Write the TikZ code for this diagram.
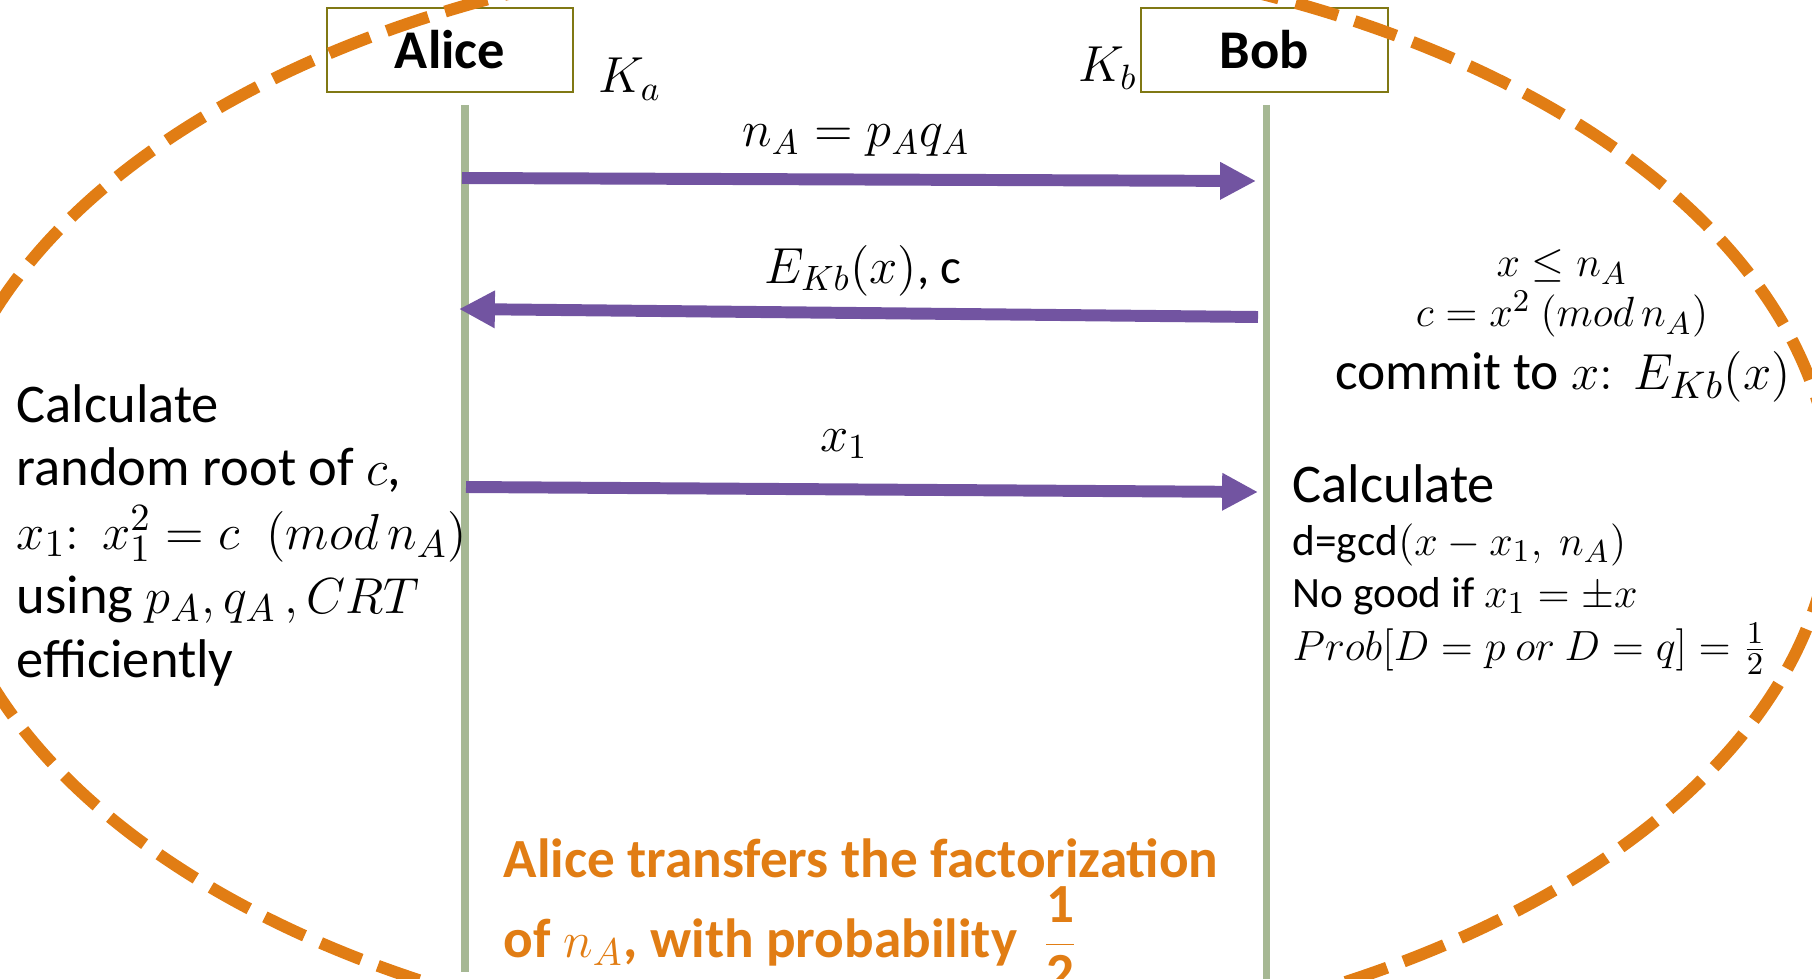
\documentclass[tikz,border=0pt]{standalone}
\usepackage{fontspec}
\setmainfont{Carlito}
\usetikzlibrary{arrows.meta}
\definecolor{orng}{RGB}{225,125,20}
\definecolor{purp}{RGB}{114,84,161}
\definecolor{sage}{RGB}{166,184,148}
\definecolor{olivebd}{RGB}{128,120,20}
\begin{document}
\begin{tikzpicture}[x=0.01cm,y=-0.01cm,
  actor/.style={draw=olivebd, line width=0.6pt, minimum width=2.46cm, minimum height=0.84cm, inner sep=0pt, font=\fontsize{15.5}{18}\selectfont\bfseries},
  life/.style={draw=sage, line width=2pt},
  msg/.style={draw=purp, line width=3.4pt, -{Triangle[length=10.2pt,width=10pt]}},
  bigtxt/.style={inner sep=0pt, anchor=base west, font=\fontsize{15.5}{18}\selectfont},
  smtxt/.style={inner sep=0pt, anchor=base west, font=\fontsize{12.3}{15}\selectfont},
  lbl/.style={inner sep=0pt, anchor=base, font=\fontsize{14}{16}\selectfont},
  keylbl/.style={inner sep=0pt, font=\fontsize{14}{16}\selectfont},
  note/.style={inner sep=0pt, anchor=base west, text=orng, font=\fontsize{15.7}{18}\selectfont\bfseries},
  ring/.style={draw=orng, line width=3.4pt, dash pattern=on 12.5pt off 5pt}
]
\useasboundingbox (0,0) rectangle (1812,979);
\clip (0,0) rectangle (1812,979);

% actors
\node[actor] (alice) at (450,50) {Alice};
\node[actor] (bob) at (1264.5,50) {Bob};
\node[keylbl, anchor=base west] (ka) at (598,93) {$K_a$};
\node[keylbl, anchor=base east] (kb) at (1138,82) {$K_b$};

% lifelines
\coordinate (atop) at (465,105);
\coordinate (abot) at (465,972);
\coordinate (btop) at (1266,105);
\coordinate (bbot) at (1266,979);
\draw[life] (atop) -- (abot);
\draw[life] (btop) -- (bbot);

% messages
\coordinate (m1s) at (462,178);
\coordinate (m1e) at (1256,181);
\coordinate (m2s) at (1258,317);
\coordinate (m2e) at (459,309);
\coordinate (m3s) at (466,487);
\coordinate (m3e) at (1258,492);
\draw[msg] (m1s) -- (m1e);
\draw[msg] (m2s) -- (m2e);
\draw[msg] (m3s) -- (m3e);

\node[lbl] (l1) at (856,147) {$n_A = p_Aq_A$};
\node[lbl] (l2) at (863,283) {$E_{Kb}(x)$, c};
\node[lbl] (l3) at (844,451) {$x_1$};

% Alice side text
\node[bigtxt] (a1) at (16,422) {Calculate};
\node[bigtxt] (a2) at (16,485) {random root of $c$,};
\node[bigtxt] (a3) at (16,549) {$x_1\colon\; x_1^2 = c\enspace (mod\, n_A)$};
\node[bigtxt] (a4) at (16,613) {using $p_A, q_A\,, CRT$};
\node[bigtxt] (a5) at (16,677) {efficiently};

% Bob side text, upper
\node[smtxt, anchor=base] (b1) at (1562,277) {$x \le n_A$};
\node[smtxt, anchor=base] (b2) at (1562,327) {$c = x^2\ (mod\, n_A)$};
\node[bigtxt, anchor=base, font=\fontsize{15.2}{18}\selectfont] (b3) at (1563,389) {commit to $x\colon\ E_{Kb}(x)$};

% Bob side text, lower
\node[bigtxt] (c1) at (1292,502) {Calculate};
\node[smtxt] (c2) at (1292,555) {d=$\mathrm{gcd}(x - x_1,\ n_A)$};
\node[smtxt] (c3) at (1292,607) {No good if $x_1 = \pm x$};
\node[smtxt] (c4) at (1292,660) {$Prob[D = p\ or\ D = q] = \frac{1}{2}$};

% conclusion
\node[note] (n1) at (503,877) {Alice transfers the factorization};
\node[note] (n2) at (503,957) {of $n_A$, with probability\ \ $\displaystyle\frac{\textbf{1}}{\textbf{2}}$};

% dashed ellipse
\draw[ring] (885,500) ellipse [x radius=9.47cm, y radius=5.51cm];
\end{tikzpicture}
\end{document}
